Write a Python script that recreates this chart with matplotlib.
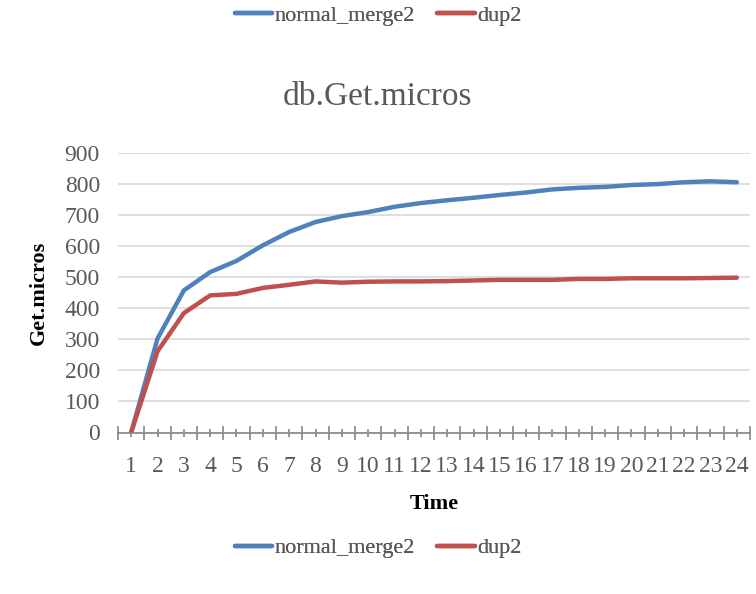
import matplotlib
matplotlib.use("Agg")
import matplotlib.pyplot as plt
from matplotlib.ticker import FixedLocator

time = list(range(1, 25))
normal_merge2 = [0, 302, 457, 516, 552, 602, 645, 677, 696, 709, 726, 738,
                 747, 755, 764, 772, 782, 787, 790, 796, 799, 805, 808, 805]
dup2 = [0, 261, 384, 441, 446, 465, 475, 486, 482, 485, 486, 486,
        487, 489, 491, 491, 491, 494, 494, 496, 496, 496, 497, 498]
yticks = [0, 100, 200, 300, 400, 500, 600, 700, 800, 900]

plt.rcParams['font.family'] = ['Liberation Serif', 'DejaVu Serif']

fig = plt.figure(figsize=(7.56, 5.94), dpi=100)
ax = fig.add_axes([118/756, 1-432.5/594, (750-118)/756, (432.5-152.7)/594])

blue = '#4F81BD'
red = '#C0504D'
l1, = ax.plot(time, normal_merge2, color=blue, lw=3.2, solid_capstyle='round', label='normal_merge2')
l2, = ax.plot(time, dup2, color=red, lw=3.2, solid_capstyle='round', label='dup2')

ax.set_xlim(0.5, 24.5)
ax.set_ylim(0, 900)
ax.set_yticks(yticks)
ax.set_xticks(time)
ax.xaxis.set_minor_locator(FixedLocator([t + 0.5 for t in range(0, 25)]))
ax.yaxis.grid(True, color='#D9D9D9', lw=1.2)
ax.set_axisbelow(True)
for s in ['left', 'right', 'top']:
    ax.spines[s].set_visible(False)
ax.spines['bottom'].set_color('#868686')
ax.spines['bottom'].set_linewidth(1.2)
ax.tick_params(axis='y', length=0, labelsize=17, labelcolor='#595959', pad=13)
ax.tick_params(axis='x', which='major', length=6, direction='inout', color='#868686',
               width=1.2, labelsize=17, labelcolor='#595959', pad=14)
ax.tick_params(axis='x', which='minor', length=10, direction='inout', color='#868686', width=1.2)

ax.set_xlabel('Time', fontsize=16, fontweight='bold', labelpad=12)
ax.set_ylabel('Get.micros', fontsize=16, fontweight='bold', labelpad=11)
fig.text(0.5, 1-97/594, 'db.Get.micros', ha='center', va='center', fontsize=24, color='#595959')

for ypos in [1-16/594, 1-548/594]:
    leg = fig.legend(handles=[l1, l2], loc='center', bbox_to_anchor=(0.5, ypos), ncol=2,
                     frameon=False, fontsize=16, handlelength=1.7, handletextpad=0.1,
                     columnspacing=1.0, labelcolor='#595959')
    fig.add_artist(leg)

fig.savefig('out.png', dpi=100)
